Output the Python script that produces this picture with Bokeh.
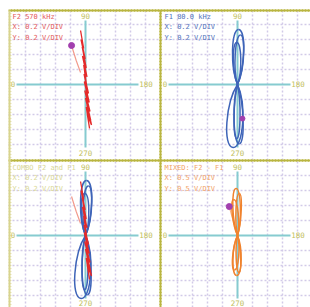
import math
from bokeh.plotting import figure
from bokeh.models import Range1d
from bokeh.core.properties import value
from bokeh.embed import file_html
from bokeh.resources import INLINE

# ---------------- data (in screen divisions) ----------------
# F2 570 kHz trace (red scribble)
f2_x = [-0.33, -0.12, -0.3, -0.02, -0.22, 0.05, -0.2, 0.1, -0.12, 0.08, -0.1, 0.2,
        -0.08, 0.25, -0.05, 0.3, 0.0, 0.35, 0.05, 0.27, 0.12, 0.4, 0.08, 0.2]
f2_y = [3.6, 2.4, 3.0, 1.7, 2.5, 1.1, 1.9, 0.5, 1.3, -0.1, 0.7, -0.6,
        0.2, -1.2, -0.4, -1.8, -0.9, -2.4, -1.5, -2.93, -2.0, -2.7, -1.2, -2.2]
f2_tail_x = [-0.93, -0.62, -0.33]
f2_tail_y = [2.6, 1.6, 0.8]
f2_dot_x = [-0.93]
f2_dot_y = [2.6]

# F1 80.0 kHz trace (blue lobes): tip x, tip y, lobe width
f1_tip_x = [0.07, -0.05, 0.2, -0.3, 0.12, -0.05]
f1_tip_y = [3.67, 2.8, 3.3, -4.2, -3.95, -3.6]
f1_width = [0.75, 0.5, 0.55, 1.05, 0.6, 0.4]
f1_dot_x = [0.33]
f1_dot_y = [-2.27]

# MIXED F2 - F1 trace (orange lobes)
mix_tip_x = [-0.1, 0.12, -0.25, -0.05, -0.2, 0.1]
mix_tip_y = [3.13, 2.8, 2.4, -2.67, -2.3, -2.45]
mix_width = [0.5, 0.35, 0.4, 0.55, 0.4, 0.3]
mix_tail_x = [-0.55, -0.35, -0.17]
mix_tail_y = [1.93, 1.2, 0.67]
mix_dot_x = [-0.55]
mix_dot_y = [1.93]

titles = [
    ["F2 570 kHz", "X: 0.2 V/DIV", "Y: 0.2 V/DIV"],
    ["F1 80.0 kHz", "X: 0.2 V/DIV", "Y: 0.2 V/DIV"],
    ["COMBO F2 and F1", "X: 0.2 V/DIV", "Y: 0.2 V/DIV"],
    ["MIXED: F2 - F1", "X: 0.5 V/DIV", "Y: 0.5 V/DIV"],
]
title_colors = ["#e45a5a", "#5272ba", "#d9d895", "#f2a468"]
angle_labels = ["90", "0", "180", "270"]

# ---------------- layout ----------------
DIV = 15.0
W, H = 310, 307
CX = [85, 237, 85, 237]
CY = [223, 223, 72, 72]

RED = "#e52a2a"
BLUE = "#3e64b8"
ORANGE = "#f0832e"
PURPLE = "#a23fae"
OLIVE = "#b9b540"
OLIVE_LIGHT = "#d8d48e"
CYAN = "#86cbd0"
LAV = "#d2cae8"

p = figure(width=W, height=H, x_range=Range1d(0, W), y_range=Range1d(0, H),
           x_axis_type=None, y_axis_type=None, toolbar_location=None,
           output_backend="svg", min_border=0, outline_line_color=None,
           background_fill_color="white", border_fill_color="white")
p.grid.visible = False


def tx(i, xs):
    return [CX[i] + v * DIV for v in xs]


def ty(i, ys):
    return [CY[i] + v * DIV for v in ys]


# graticule
for i in range(4):
    cx, cy = CX[i], CY[i]
    vx, hy = [], []
    for k in [-4, -3, -2, -1, 1, 2, 3, 4]:
        vx.append(cx + k * DIV)
        hy.append(cy + k * DIV)
    p.segment(x0=vx, y0=[cy - 76] * 8, x1=vx, y1=[cy + 74] * 8,
              line_color=LAV, line_width=1.5, line_dash="2 2")
    p.segment(x0=[cx - 77] * 8, y0=hy, x1=[cx + 75] * 8, y1=hy,
              line_color=LAV, line_width=1.5, line_dash="2 2")
    # cyan axes
    p.segment(x0=[cx - 69], y0=[cy], x1=[cx + 53], y1=[cy], line_color=CYAN, line_width=2)
    p.segment(x0=[cx], y0=[cy - 63], x1=[cx], y1=[cy + 64], line_color=CYAN, line_width=2)

# olive frame lines
p.segment(x0=[8, 160, 8, 9], y0=[297, 297, 147, 297], x1=[310, 160, 310, 9], y1=[297, 0, 147, 0],
          line_color=[OLIVE, OLIVE, OLIVE, OLIVE_LIGHT], line_width=2)

# small ticks along olive lines
tick_x = [8 + k * 3 for k in range(1, 101)]
p.segment(x0=tick_x, y0=[295.5] * len(tick_x), x1=tick_x, y1=[298.5] * len(tick_x),
          line_color=OLIVE, line_width=1, line_alpha=0.6)
p.segment(x0=tick_x, y0=[145.5] * len(tick_x), x1=tick_x, y1=[148.5] * len(tick_x),
          line_color=OLIVE, line_width=1, line_alpha=0.6)
tick_y = [297 - k * 3 for k in range(1, 99)]
p.segment(x0=[158.5] * len(tick_y), y0=tick_y, x1=[161.5] * len(tick_y), y1=tick_y,
          line_color=OLIVE, line_width=1, line_alpha=0.6)
p.segment(x0=[8] * len(tick_y), y0=tick_y, x1=[11] * len(tick_y), y1=tick_y,
          line_color=OLIVE_LIGHT, line_width=1, line_alpha=0.6)

# angle labels and titles
font = value("DejaVu Sans Mono")
for i in range(4):
    cx, cy = CX[i], CY[i]
    bottom = cy - 68.5 if cy > 100 else cy - 67.5
    p.text(x=[cx, cx - 72.5, cx + 60.5, cx], y=[cy + 68.5, cy + 1, cy + 1, bottom],
           text=angle_labels, text_font=font, text_font_size="7.5px",
           text_color="#c2c05c", text_align="center", text_baseline="middle")
    p.text(x=[cx - 73] * 3, y=[cy + 68, cy + 57.5, cy + 47], text=titles[i],
           text_font=font, text_font_size="7px", text_color=title_colors[i],
           text_align="left", text_baseline="middle")


def lobes(i, tip_x, tip_y, width, color):
    cx, cy = CX[i], CY[i]
    x0, y0, x1, y1, c0x, c0y, c1x, c1y = [], [], [], [], [], [], [], []
    for a, b, w in zip(tip_x, tip_y, width):
        L = math.hypot(a, b)
        dx, dy = a / L, b / L
        nx, ny = -dy, dx
        k = w / 1.5
        for s in (1, -1):
            x0.append(cx)
            y0.append(cy)
            x1.append(cx + a * DIV)
            y1.append(cy + b * DIV)
            c0x.append(cx + (0.3 * L * dx + s * k * nx) * DIV)
            c0y.append(cy + (0.3 * L * dy + s * k * ny) * DIV)
            c1x.append(cx + (a + s * k * nx) * DIV)
            c1y.append(cy + (b + s * k * ny) * DIV)
    p.bezier(x0=x0, y0=y0, x1=x1, y1=y1, cx0=c0x, cy0=c0y, cx1=c1x, cy1=c1y,
             line_color=color, line_width=1.5)


# Panel 1: F2
p.line(tx(0, f2_tail_x), ty(0, f2_tail_y), line_color="#f29a8c", line_width=1.2)
p.line(tx(0, f2_x), ty(0, f2_y), line_color=RED, line_width=1.3)
p.scatter(tx(0, f2_dot_x), ty(0, f2_dot_y), size=6, color=PURPLE)

# Panel 2: F1
lobes(1, f1_tip_x, f1_tip_y, f1_width, BLUE)
p.scatter(tx(1, f1_dot_x), ty(1, f1_dot_y), size=5, color=PURPLE)

# Panel 3: combo
lobes(2, f1_tip_x, f1_tip_y, f1_width, BLUE)
p.line(tx(2, f2_tail_x), ty(2, f2_tail_y), line_color="#f29a8c", line_width=1.2)
p.line(tx(2, f2_x), ty(2, f2_y), line_color=RED, line_width=1.3)

# Panel 4: mixed
p.line(tx(3, mix_tail_x), ty(3, mix_tail_y), line_color="#f6b488", line_width=1.2)
lobes(3, mix_tip_x, mix_tip_y, mix_width, ORANGE)
p.scatter(tx(3, mix_dot_x), ty(3, mix_dot_y), size=6, color=PURPLE)

open("out.html", "w").write(file_html(p, INLINE))
